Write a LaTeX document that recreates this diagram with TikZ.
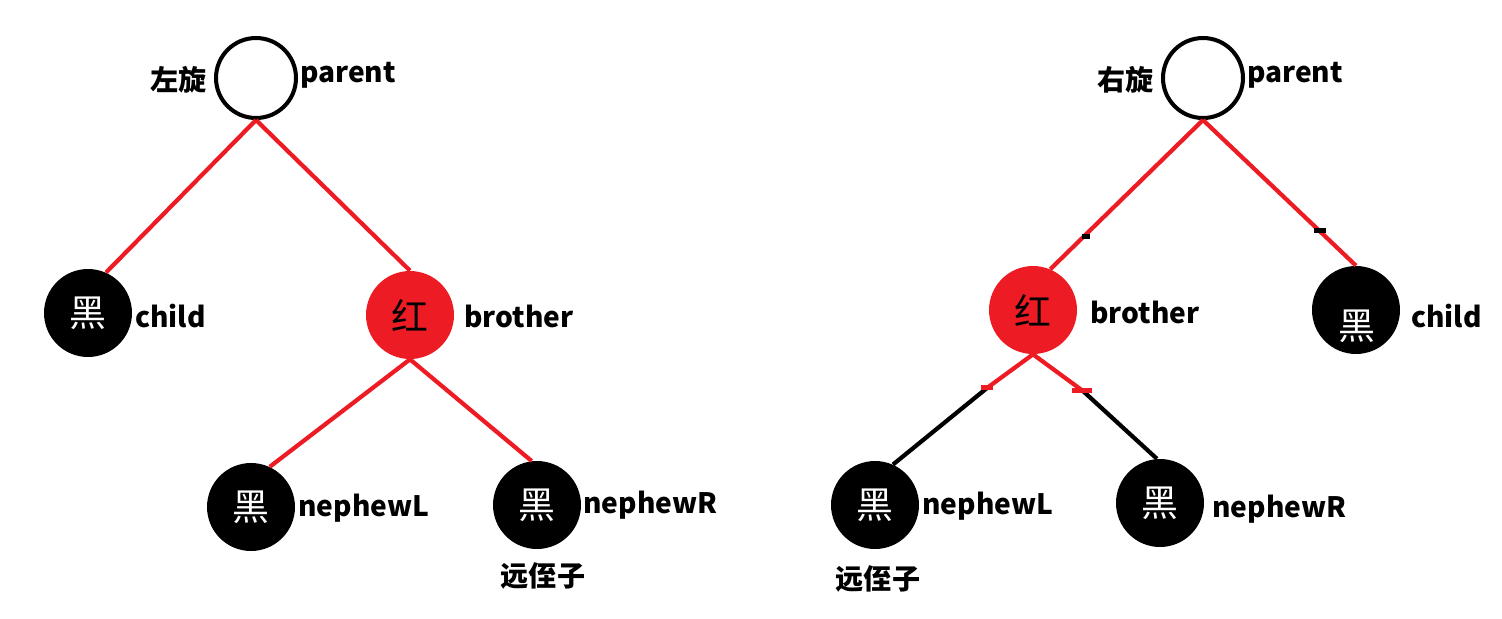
\documentclass[tikz,border=0pt]{standalone}
\usepackage{fontspec}
\setmainfont{Noto Sans CJK SC}
\usetikzlibrary{calc}
\definecolor{treered}{HTML}{ED1C24}
\definecolor{darktext}{HTML}{000000}

\tikzset{
  blknode/.style={circle, fill=black, minimum size=1.76cm, inner sep=0pt, text=white, font=\fontsize{21}{21}\selectfont},
  rednode/.style={circle, fill=treered, minimum size=1.76cm, inner sep=0pt, text=black, font=\fontsize{21}{21}\selectfont},
  topnode/.style={circle, draw=black, line width=2.3pt, fill=white, minimum size=1.6cm, inner sep=0pt},
  lbl/.style={anchor=west, inner sep=0pt, text=darktext, font=\fontsize{16}{16}\selectfont\bfseries},
  cjklbl/.style={inner sep=0pt, text=darktext, font=\fontsize{16}{16}\selectfont\bfseries},
  redline/.style={draw=treered, line width=2.4pt},
  blkline/.style={draw=black, line width=2.4pt}
}

\begin{document}
\begin{tikzpicture}[x=0.02cm, y=-0.02cm]
\useasboundingbox (0,0) rectangle (1502,619);

% left tree
\node[topnode] (lpar) at (256,78) {};
\node[blknode] (lch) at (88,313) {黑};
\node[rednode] (lbro) at (410,315) {红};
\node[blknode] (lnl) at (251,507) {黑};
\node[blknode] (lnr) at (537,505) {黑};

\draw[redline] (lpar.south) -- (lch.66);
\draw[redline] (lpar.south) -- (lbro.north);
\draw[redline] (lbro.south) -- (lnl.65);
\draw[redline] (lbro.south) -- (lnr.97);

\node[cjklbl, anchor=east] (lrot) at (207,80) {左旋};
\node[lbl] (lparl) at (300,75) {parent};
\node[lbl] (lchl) at (135,316) {child};
\node[lbl] (lbrol) at (464,316) {brother};
\node[lbl] (lnll) at (298,508) {nephewL};
\node[lbl] (lnrl) at (583,505) {nephewR};
\node[cjklbl] (lfar) at (543,576) {远侄子};

% right tree
\node[topnode] (rpar) at (1203,78) {};
\node[rednode] (rbro) at (1033,310) {红};
\node[blknode] (rch) at (1356,310) {};
\node[blknode, fill=none, minimum size=0pt] (rchg) at (1357,326) {黑};
\node[blknode] (rnl) at (875,505) {黑};
\node[blknode] (rnr) at (1160,503) {黑};

\coordinate (rtl) at (987,388);
\coordinate (rtr) at (1083,391);

\draw[redline] (rpar.south) -- (rbro.67);
\draw[redline] (rpar.south) -- (rch.north);
\draw[blkline] (rtl) -- (rnl.66);
\draw[blkline] (rtr) -- (rnr.94);
\draw[redline] (rbro.south) -- (rtl);
\draw[redline] (rbro.south) -- (rtr);

\fill[black] (1082,234) rectangle (1090,239);
\fill[black] (1314,228) rectangle (1326,233);
\fill[treered] (981,385) rectangle (993,390);
\fill[treered] (1072,388) rectangle (1092,393);

\node[cjklbl, anchor=east] (rrot) at (1154,80) {右旋};
\node[lbl] (rparl) at (1247,75) {parent};
\node[lbl] (rbrol) at (1090,312) {brother};
\node[lbl] (rchl) at (1411,316) {child};
\node[lbl] (rnll) at (922,506) {nephewL};
\node[lbl] (rnrl) at (1212,509) {nephewR};
\node[cjklbl] (rfar) at (878,579) {远侄子};
\end{tikzpicture}
\end{document}
